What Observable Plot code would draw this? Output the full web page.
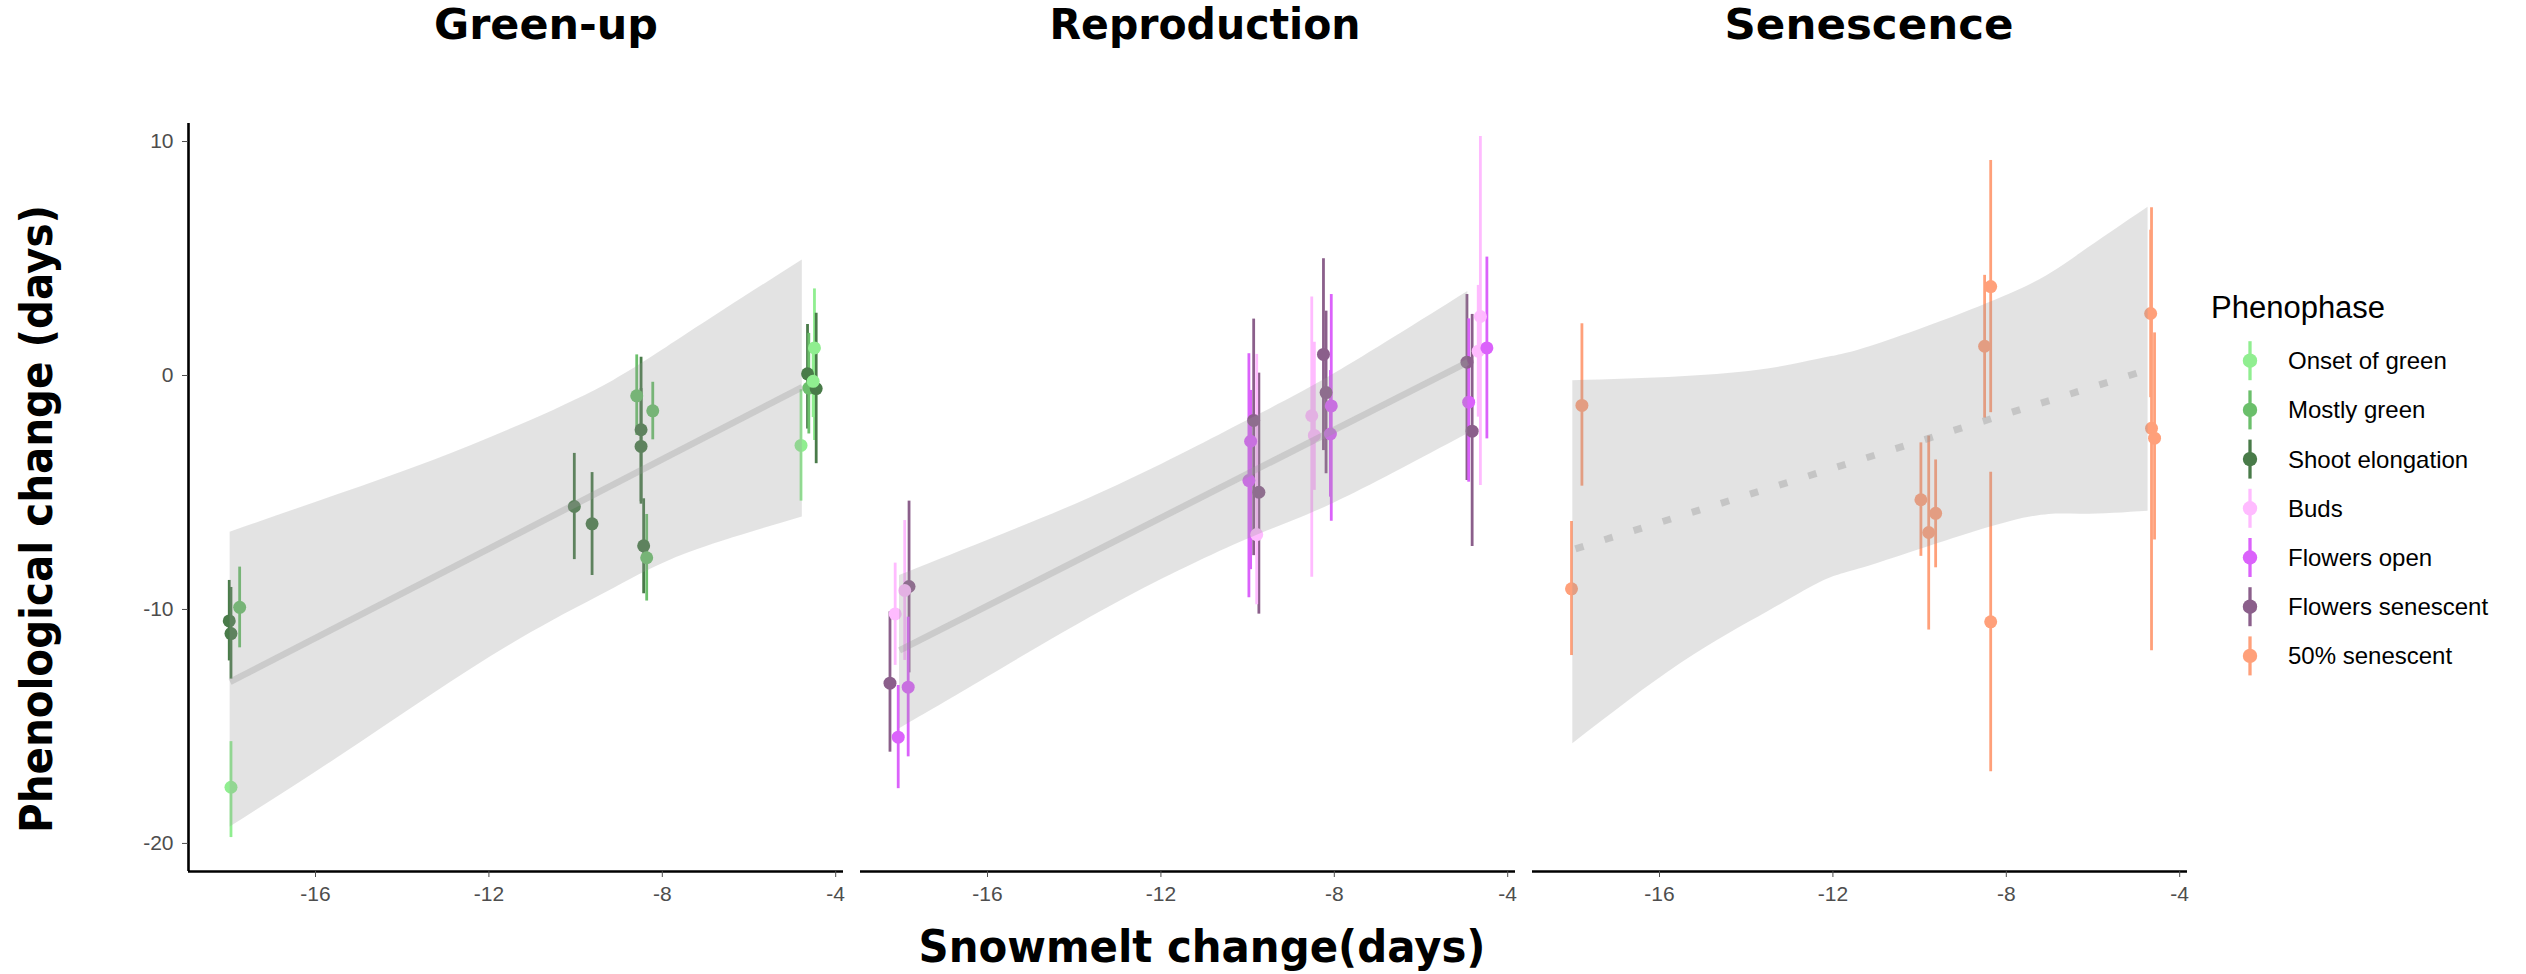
<!DOCTYPE html>
<html><head><meta charset="utf-8">
<script src="https://cdn.jsdelivr.net/npm/d3@7"></script>
<script src="https://cdn.jsdelivr.net/npm/@observablehq/plot@0.6"></script>
<style>
body{margin:0;background:#fff;}
#fig{position:relative;width:2526px;height:974px;overflow:hidden;background:#fff;}
#fig svg{position:absolute;left:0;top:0;}
</style></head>
<body><div id="fig"></div>
<script>
const panels = ["Green-up", "Reproduction", "Senescence"];
const phases = ["Onset of green", "Mostly green", "Shoot elongation", "Buds", "Flowers open", "Flowers senescent", "50% senescent"];
const phaseColors = ["#90EE90", "#6BBF6B", "#497B49", "#FFBBFF", "#DB62FB", "#8B5F8B", "#FFA07A"];
const xTicks = [-16, -12, -8, -4];
const yTicks = [-20, -10, 0, 10];

// Green-up panel
const greenPhase = ["Onset of green","Shoot elongation","Shoot elongation","Mostly green","Shoot elongation","Shoot elongation","Mostly green","Shoot elongation","Shoot elongation","Mostly green","Shoot elongation","Mostly green","Onset of green","Shoot elongation","Mostly green","Onset of green","Shoot elongation","Onset of green"];
const greenX  = [-17.95,-17.99,-17.95,-17.75,-10.03,-9.62,-8.59,-8.49,-8.49,-8.22,-8.43,-8.36,-4.80,-4.65,-4.62,-4.49,-4.45,-4.52];
const greenY  = [-17.6,-10.49,-11.03,-9.91,-5.6,-6.34,-0.87,-2.32,-3.03,-1.51,-7.28,-7.79,-2.99,0.07,-0.54,1.18,-0.56,-0.25];
const greenLo = [-19.75,-12.2,-12.98,-11.64,-7.87,-8.55,-2.56,-5.4,-5.5,-2.75,-9.33,-9.64,-5.37,-2.29,-2.5,-2.78,-3.77,-1.8];
const greenHi = [-15.65,-8.76,-9.06,-8.19,-3.33,-4.15,0.88,0.78,-0.56,-0.29,-5.27,-5.94,-0.61,2.18,1.8,3.7,2.66,1.4];

// Reproduction panel
const reproPhase = ["Flowers senescent","Buds","Buds","Flowers senescent","Flowers open","Flowers open","Flowers senescent","Flowers open","Flowers open","Flowers senescent","Buds","Flowers senescent","Flowers senescent","Flowers open","Flowers open","Buds","Buds","Flowers senescent","Flowers open","Flowers senescent","Buds","Buds","Flowers open"];
const reproX  = [-17.81,-17.91,-18.13,-18.25,-17.83,-18.06,-9.86,-9.93,-9.97,-9.74,-9.79,-8.25,-8.19,-8.07,-8.09,-8.52,-8.46,-4.94,-4.90,-4.82,-4.63,-4.68,-4.48];
const reproY  = [-9.02,-9.19,-10.19,-13.15,-13.32,-15.46,-1.92,-2.81,-4.49,-4.99,-6.8,0.90,-0.73,-1.30,-2.50,-1.72,-2.56,0.57,-1.14,-2.38,2.52,1.04,1.18];
const reproLo = [-12.71,-12.18,-12.39,-16.1,-16.3,-17.66,-7.7,-8.3,-9.5,-10.2,-9.8,-3.21,-4.2,-6.23,-5.2,-8.62,-4.91,-4.49,-4.56,-7.31,-4.70,-1.78,-2.71];
const reproHi = [-5.37,-6.2,-8.02,-10.1,-10.33,-13.25,2.41,-0.64,0.93,0.1,0.9,4.99,2.75,3.46,0.21,3.35,1.42,3.46,2.42,2.61,10.21,3.85,5.06];

// Senescence panel (all "50% senescent")
const senX  = [-17.79,-18.03,-9.97,-9.79,-9.63,-8.50,-8.36,-8.36,-4.67,-4.65,-4.58];
const senY  = [-1.28,-9.12,-5.31,-6.71,-5.89,1.25,3.80,-10.53,2.65,-2.26,-2.68];
const senLo = [-4.73,-11.97,-7.73,-10.88,-8.22,-1.82,-1.59,-16.94,-0.95,-11.77,-7.03];
const senHi = [2.21,-6.24,-2.88,-2.59,-3.61,4.28,9.19,-4.14,6.21,7.17,1.82];

// Confidence bands of the fitted lines
const greenBandX  = [-17.97,-15.54,-13.28,-11.03,-9.12,-7.42,-4.77];
const greenBandLo = [-19.3,-16.4,-13.6,-11.0,-9.1,-7.6,-6.05];
const greenBandHi = [-6.70,-5.13,-3.63,-1.92,-0.21,1.78,4.94];
const reproBandX  = [-18.03,-16,-13,-10,-8,-4.92];
const reproBandLo = [-15.1,-12.9,-9.7,-7.0,-5.45,-2.49];
const reproBandHi = [-8.55,-7.05,-4.7,-1.92,0.07,3.59];
const senBandX  = [-18.0,-15.5,-13.5,-12.2,-10.9,-7.9,-6.3,-4.73];
const senBandLo = [-15.74,-12.3,-10.1,-8.76,-7.99,-6.24,-5.93,-5.80];
const senBandHi = [-0.22,-0.05,0.28,0.75,1.38,3.49,5.2,7.19];

// Fitted lines (start/end)
const trendX1 = [-17.97,-18.03,-17.94];
const trendY1 = [-13.1,-11.75,-7.41];
const trendX2 = [-4.77,-4.92,-4.73];
const trendY2 = [-0.5,0.57,0.25];
const trendSignificant = [true, true, false];

const xDomain = [-18.93, -3.82];
const yDomain = [-21.2, 10.77];

function pts(panel, phase, x, y, lo, hi) {
  return x.map((v, i) => ({panel, phase: Array.isArray(phase) ? phase[i] : phase, x: v, y: y[i], lo: lo[i], hi: hi[i]}));
}
const points = [
  ...pts("Green-up", greenPhase, greenX, greenY, greenLo, greenHi),
  ...pts("Reproduction", reproPhase, reproX, reproY, reproLo, reproHi),
  ...pts("Senescence", "50% senescent", senX, senY, senLo, senHi)
];
function band(panel, x, lo, hi) { return x.map((v, i) => ({panel, x: v, lo: lo[i], hi: hi[i]})); }
const bands = [
  ...band("Green-up", greenBandX, greenBandLo, greenBandHi),
  ...band("Reproduction", reproBandX, reproBandLo, reproBandHi),
  ...band("Senescence", senBandX, senBandLo, senBandHi)
];
const trends = panels.map((p, i) => ({panel: p, x1: trendX1[i], y1: trendY1[i], x2: trendX2[i], y2: trendY2[i], sig: trendSignificant[i]}));

const fmt = d => String(d);
const chart = Plot.plot({
  width: 2526, height: 974,
  marginTop: 123, marginBottom: 103, marginLeft: 187, marginRight: 338,
  style: {background: "transparent", fontFamily: "'Liberation Sans', Arial, sans-serif", overflow: "visible"},
  fx: {domain: panels, paddingInner: 0.026, paddingOuter: 0, axis: null, label: null},
  x: {domain: xDomain},
  y: {domain: yDomain},
  color: {domain: phases, range: phaseColors},
  marks: [
    Plot.ruleX(points, {fx: "panel", x: "x", y1: "lo", y2: "hi", stroke: "phase", strokeWidth: 2.8}),
    Plot.dot(points, {fx: "panel", x: "x", y: "y", fill: "phase", r: 6.5}),
    Plot.areaY(bands, {fx: "panel", x: "x", y1: "lo", y2: "hi", fill: "#999999", fillOpacity: 0.27, curve: "natural"}),
    Plot.link(trends.filter(d => d.sig), {fx: "panel", x1: "x1", y1: "y1", x2: "x2", y2: "y2", stroke: "#999999", strokeOpacity: 0.32, strokeWidth: 6.5}),
    Plot.link(trends.filter(d => !d.sig), {fx: "panel", x1: "x1", y1: "y1", x2: "x2", y2: "y2", stroke: "#999999", strokeOpacity: 0.4, strokeWidth: 7, strokeDasharray: "8.5,22"}),
    Plot.ruleY(panels, {fx: d => d, y: () => yDomain[0], stroke: "black", strokeWidth: 2.6}),
    Plot.ruleX([panels[0]], {fx: d => d, x: () => xDomain[0], stroke: "black", strokeWidth: 2.6}),
    Plot.axisX({ticks: xTicks, tickFormat: fmt, tickSize: 6, tickPadding: 9, fontSize: 21, color: "#4d4d4d", label: null}),
    Plot.axisY({ticks: yTicks, tickFormat: fmt, tickSize: 6, tickPadding: 9, fontSize: 21, color: "#4d4d4d", label: null})
  ]
});
const fig = document.getElementById("fig");
fig.appendChild(chart);

// overlay: titles, axis titles, legend
const NS = "http://www.w3.org/2000/svg";
const ov = document.createElementNS(NS, "svg");
ov.setAttribute("width", 2526); ov.setAttribute("height", 974);
ov.style.pointerEvents = "none";
fig.appendChild(ov);
function txt(s, x, y, o) {
  const t = document.createElementNS(NS, "text");
  t.textContent = s;
  t.setAttribute("x", x); t.setAttribute("y", y);
  for (const k in o) t.setAttribute(k, o[k]);
  ov.appendChild(t);
  return t;
}
const titleFont = "'DejaVu Sans', sans-serif";
const titleCenters = [546, 1205, 1869];
const titleWidths = [224, 311, 289];
panels.forEach((p, i) => txt(p, titleCenters[i], 39, {"font-family": titleFont, "font-weight": "bold", "font-size": 42, "text-anchor": "middle", textLength: titleWidths[i], lengthAdjust: "spacingAndGlyphs", fill: "#000"}));
txt("Snowmelt change(days)", 1202, 962, {"font-family": titleFont, "font-weight": "bold", "font-size": 44, "text-anchor": "middle", textLength: 567, lengthAdjust: "spacingAndGlyphs", fill: "#000"});
txt("Phenological change (days)", 0, 0, {"font-family": titleFont, "font-weight": "bold", "font-size": 44, "text-anchor": "middle", textLength: 628, lengthAdjust: "spacingAndGlyphs", fill: "#000", transform: "translate(52,519) rotate(-90)"});

txt("Phenophase", 2211, 318, {"font-family": "'Liberation Sans', Arial, sans-serif", "font-size": 31, fill: "#000"});
phases.forEach((p, i) => {
  const cy = 360.7 + i * 49.2;
  const l = document.createElementNS(NS, "line");
  l.setAttribute("x1", 2250); l.setAttribute("x2", 2250);
  l.setAttribute("y1", cy - 19.5); l.setAttribute("y2", cy + 19.5);
  l.setAttribute("stroke", phaseColors[i]); l.setAttribute("stroke-width", 3.3);
  ov.appendChild(l);
  const c = document.createElementNS(NS, "circle");
  c.setAttribute("cx", 2250); c.setAttribute("cy", cy); c.setAttribute("r", 7.2);
  c.setAttribute("fill", phaseColors[i]);
  ov.appendChild(c);
  txt(p, 2288, cy + 8.5, {"font-family": "'Liberation Sans', Arial, sans-serif", "font-size": 24, fill: "#000"});
});
</script>
</body></html>
